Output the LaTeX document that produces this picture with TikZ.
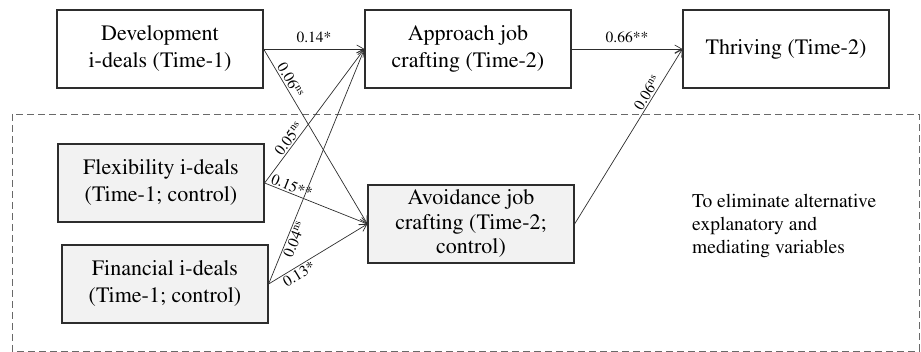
\documentclass[tikz,border=0pt]{standalone}
\usepackage[T1]{fontenc}
\usepackage{times}
\usetikzlibrary{arrows.meta,positioning}
\definecolor{boxline}{RGB}{45,45,45}
\definecolor{ctrlfill}{RGB}{242,242,242}
\definecolor{dashgray}{RGB}{105,105,105}
\newcommand{\coefns}[1]{#1\textsuperscript{ns}}

\begin{document}
\begin{tikzpicture}[x=1pt,y=-1pt,
    var/.style={draw=boxline,line width=1.2pt,minimum width=206pt,minimum height=78pt,
      inner sep=0pt,align=center,font=\fontsize{22}{27}\selectfont},
    ctrl/.style={var,fill=ctrlfill},
    effect/.style={draw=boxline,line width=.7pt,-{Straight Barb[length=7pt,width=8pt]}},
    coef/.style={font=\fontsize{15.5}{17}\selectfont,inner sep=1.5pt}]
  \useasboundingbox (0,0) rectangle (921,352);
  % control block
  \draw[dashgray,line width=.9pt,dash pattern=on 7pt off 4pt] (12,114) rectangle (919,351);
  \node[align=left,anchor=west,inner sep=0pt,font=\fontsize{19.5}{23}\selectfont] (note) at (692,226)
    {To eliminate alternative\\explanatory and\\mediating variables};
  % variables
  \node[var] (dev) at (160,49) {Development\\i-deals (Time-1)};
  \node[var] (appr) at (468,49) {Approach job\\crafting (Time-2)};
  \node[var] (thr) at (786,49) {Thriving (Time-2)};
  \node[ctrl] (flex) at (161,183) {Flexibility i-deals\\(Time-1; control)};
  \node[ctrl] (fin) at (165,284) {Financial i-deals\\(Time-1; control)};
  \node[ctrl,font=\fontsize{22}{24.5}\selectfont] (avoid) at (471,224)
    {Avoidance job\\crafting (Time-2;\\control)};
  % paths
  \draw[effect] (dev.east) -- node[coef,above=4pt] {0.14*} (appr.west);
  \draw[effect] (appr.east) -- node[coef,above=4pt] {0.66**} (thr.west);
  \draw[effect] (dev.east) -- node[coef,sloped,above,pos=.2] {\coefns{0.06}} (avoid.west);
  \draw[effect] (flex.east) -- node[coef,sloped,above,pos=.3] {\coefns{0.05}} (appr.west);
  \draw[effect] (flex.east) -- node[coef,sloped,above,pos=.24] {0.15**} (avoid.west);
  \draw[effect] (fin.east) -- node[coef,sloped,below,pos=.2] {\coefns{0.04}} (appr.west);
  \draw[effect] (fin.east) -- node[coef,sloped,below,pos=.27] {0.13*} (avoid.west);
  \draw[effect] (avoid.east) -- node[coef,sloped,above,pos=.73] {\coefns{0.06}} (thr.west);
\end{tikzpicture}
\end{document}
